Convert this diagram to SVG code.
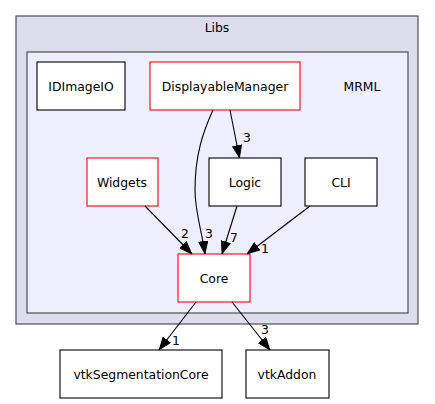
<svg xmlns="http://www.w3.org/2000/svg" width="435" height="404" viewBox="0 0 435 404">
<defs>
<style>
text{font-family:"DejaVu Sans","Liberation Sans",sans-serif;font-size:12.4px;fill:#000}
.n{text-anchor:middle}
.box{fill:#fff;stroke:#000;stroke-width:1.1}
.red{fill:#fff;stroke:#ff0000;stroke-width:1.1}
.e{fill:none;stroke:#000;stroke-width:1.1}
</style>
<marker id="ah" markerWidth="13" markerHeight="10" refX="13" refY="5" orient="auto" markerUnits="userSpaceOnUse">
<path d="M0.5,0.5 L12.5,5 L0.5,9.5 Z" fill="#000" stroke="#000" stroke-width="1"/>
</marker>
</defs>
<rect width="435" height="404" fill="#fff"/>
<g id="cluster-libs">
<rect x="16" y="16" width="402" height="308" fill="#ddddee" stroke="#404040" stroke-width="1.1"/>
<text class="n" x="217" y="32">Libs</text>
</g>
<g id="cluster-mrml">
<rect x="27" y="52" width="381" height="261" fill="#eeeeff" stroke="#404040" stroke-width="1.1"/>
<text class="n" x="362" y="91">MRML</text>
</g>
<g id="node-IDImageIO">
<rect class="box" x="37" y="62" width="88" height="48"/>
<text class="n" x="81" y="90.5">IDImageIO</text>
</g>
<g id="node-DisplayableManager">
<rect class="red" x="150" y="62" width="150" height="48"/>
<text class="n" x="225" y="90.5">DisplayableManager</text>
</g>
<g id="node-Widgets">
<rect class="red" x="87" y="158" width="71" height="48"/>
<text class="n" x="122" y="186.5">Widgets</text>
</g>
<g id="node-Logic">
<rect class="box" x="209" y="158" width="72" height="48"/>
<text class="n" x="245" y="186.5">Logic</text>
</g>
<g id="node-CLI">
<rect class="box" x="305" y="158" width="72" height="48"/>
<text class="n" x="341" y="186.5">CLI</text>
</g>
<g id="node-Core">
<rect class="red" x="178" y="254" width="72" height="48"/>
<text class="n" x="214" y="282.5">Core</text>
</g>
<g id="node-vtkSegmentationCore">
<rect class="box" x="60" y="350" width="162" height="48"/>
<text class="n" x="141" y="378.5">vtkSegmentationCore</text>
</g>
<g id="node-vtkAddon">
<rect class="box" x="246" y="350" width="83" height="48"/>
<text class="n" x="287" y="378.5">vtkAddon</text>
</g>
<g id="connectors">
<path class="e" d="M213,110 C203,132 195,155 195,190 C195,212 202,232 205,254" marker-end="url(#ah)"/>
<text x="205" y="238">3</text>
<path class="e" d="M230,110 L239.5,158" marker-end="url(#ah)"/>
<text x="243" y="142">3</text>
<path class="e" d="M145,206 L192,254" marker-end="url(#ah)"/>
<text x="181" y="238">2</text>
<path class="e" d="M237,206 L222,254" marker-end="url(#ah)"/>
<text x="230" y="242">7</text>
<path class="e" d="M310,206 L247,254" marker-end="url(#ah)"/>
<text x="261" y="253">1</text>
<path class="e" d="M196,302 L159,350" marker-end="url(#ah)"/>
<text x="172" y="345">1</text>
<path class="e" d="M232,302 L270,350" marker-end="url(#ah)"/>
<text x="261" y="334">3</text>
</g>
</svg>
